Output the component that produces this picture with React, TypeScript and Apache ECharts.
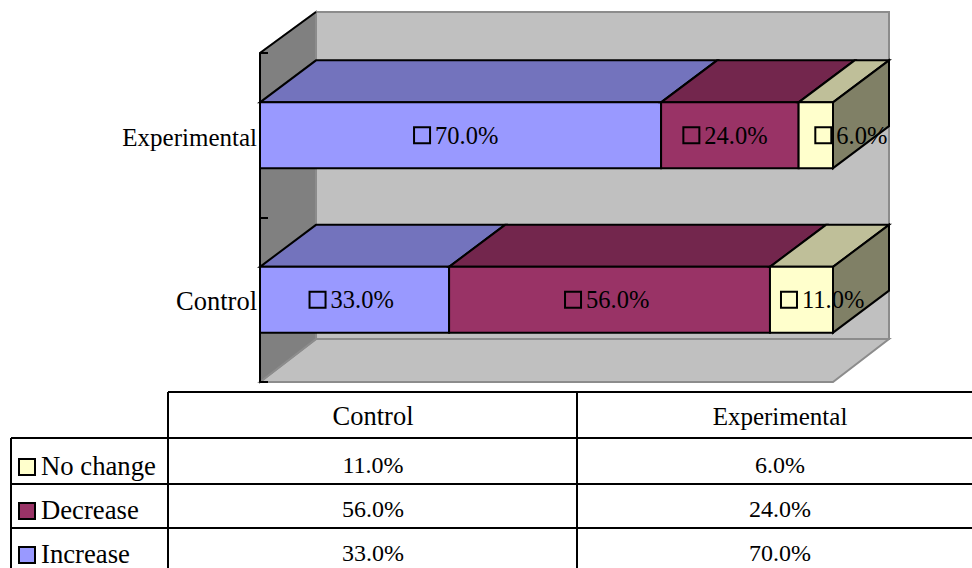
import React, { useEffect, useRef } from "react";
import * as echarts from "echarts";

const categories = ["Control", "Experimental"];
const increaseValues = [33, 70];
const decreaseValues = [56, 24];
const noChangeValues = [11, 6];
const seriesNames = ["Increase", "Decrease", "No change"];
const tableOrder = ["No change", "Decrease", "Increase"];

const FONT = "'Liberation Serif', 'Times New Roman', serif";
const WIDTH = 972;
const HEIGHT = 568;
const GRID = { left: 260, top: 53, width: 573, height: 329 };
const DEPTH_X = 56;
const DEPTH_Y = -42;
const LINE = { stroke: "#000", lineWidth: 2 };
const WALL_EDGE = { stroke: "#8c8c8c", lineWidth: 2 };

const palette: Record<string, { front: string; top: string; side: string }> = {
  Increase: { front: "#9999FF", top: "#7373BD", side: "#73739F" },
  Decrease: { front: "#993366", top: "#73264D", side: "#4D1A33" },
  "No change": { front: "#FFFFCC", top: "#BFBF99", side: "#808066" },
};

const valuesByName: Record<string, number[]> = {
  Increase: increaseValues,
  Decrease: decreaseValues,
  "No change": noChangeValues,
};

// Distance from a segment's centre to the left edge of its key-and-value label.
const labelLead: Record<string, number[]> = {
  Increase: [-46, -47.5],
  Decrease: [-45.5, -47.5],
  "No change": [-21.5, -1.5],
};

const percent = (v: number) => `${v.toFixed(1)}%`;

const poly = (points: number[][], fill: string, edge: object = LINE) => ({
  type: "polygon",
  shape: { points },
  style: { fill, ...edge },
});

// Back wall, side wall and floor of the 3D plot box.
const renderWalls = (params: any) => {
  const { x, y, width, height } = params.coordSys;
  const r = x + width;
  const b = y + height;
  const backTop = y + DEPTH_Y + 1;
  const backBottom = b + DEPTH_Y - 1;
  return {
    type: "group",
    children: [
      poly([[x + DEPTH_X, backTop], [r + DEPTH_X, backTop], [r + DEPTH_X, backBottom], [x + DEPTH_X, backBottom]], "#C0C0C0", WALL_EDGE),
      poly([[x, b], [r, b], [r + DEPTH_X, backBottom], [x + DEPTH_X, backBottom]], "#C0C0C0", WALL_EDGE),
      poly([[x, y], [x + DEPTH_X, backTop], [x + DEPTH_X, backBottom], [x, b]], "#808080", WALL_EDGE),
      { type: "line", shape: { x1: x, y1: y, x2: x + DEPTH_X, y2: backTop }, style: LINE },
    ],
  };
};

// One stacked segment as a box: top face, front face, optional end face, then its label.
const renderSegment = (name: string, isLast: boolean) => (params: any, api: any) => {
  const cat = api.value(0);
  const start = api.value(1);
  const end = api.value(2);
  const [x0, cy] = api.coord([start, cat]);
  const [x1] = api.coord([end, cat]);
  const h = api.size([0, 1])[1] * 0.4;
  const t = cy - h / 2;
  const b = cy + h / 2;
  const colors = palette[name];
  const children: any[] = [
    poly([[x0, t], [x1, t], [x1 + DEPTH_X, t + DEPTH_Y], [x0 + DEPTH_X, t + DEPTH_Y]], colors.top),
    poly([[x0, t], [x1, t], [x1, b], [x0, b]], colors.front),
  ];
  if (isLast) {
    children.push(
      poly([[x1, t], [x1 + DEPTH_X, t + DEPTH_Y], [x1 + DEPTH_X, b + DEPTH_Y], [x1, b]], colors.side)
    );
  }
  const left = (x0 + x1) / 2 + labelLead[name][cat];
  children.push(
    { type: "rect", shape: { x: left + 1, y: cy - 8, width: 16, height: 16 }, style: { fill: "transparent", ...LINE } },
    {
      type: "text",
      x: left + 22,
      y: cy,
      style: { text: percent(end - start), font: `24.5px ${FONT}`, fill: "#000", verticalAlign: "middle", align: "left" },
    }
  );
  return { type: "group", children };
};

const buildSegmentData = (name: string) => {
  const order = seriesNames.indexOf(name);
  return categories.map((_, cat) => {
    const start = seriesNames.slice(0, order).reduce((sum, n) => sum + valuesByName[n][cat], 0);
    return [cat, start, start + valuesByName[name][cat]];
  });
};

// The data table under the plot, with its legend keys.
const buildTable = () => {
  const rows = [438, 484, 528];
  const columns = [168, 577];
  const els: any[] = [];
  const hline = (x1: number, x2: number, y: number) =>
    els.push({ type: "line", shape: { x1, y1: y, x2, y2: y }, style: LINE });
  const vline = (x: number, y1: number, y2: number) =>
    els.push({ type: "line", shape: { x1: x, y1, x2: x, y2 }, style: LINE });
  const label = (text: string, x: number, y: number, align: string, size: number) =>
    els.push({
      type: "text",
      x,
      y,
      style: { text, x: 0, y: 0, font: `${size}px ${FONT}`, fill: "#000", align, verticalAlign: "middle" },
    });

  hline(168, WIDTH, 392);
  rows.forEach((y) => hline(11, WIDTH, y));
  vline(11, 438, HEIGHT);
  columns.forEach((x) => vline(x, 392, HEIGHT));

  const columnCentres = [373, 780];
  categories.forEach((c, i) => label(c, columnCentres[i], 416, "center", i === 0 ? 26.5 : 25));
  tableOrder.forEach((name, r) => {
    const mid = [467, 511, 555][r];
    els.push({
      type: "rect",
      shape: { x: 19, y: mid - 8, width: 16, height: 16 },
      style: { fill: palette[name].front, ...LINE },
    });
    label(name, 41, mid - 1, "left", 26.7);
    valuesByName[name].forEach((v, c) => label(percent(v), columnCentres[c], mid - 2, "center", 24));
  });
  return els;
};

export default function App() {
  const ref = useRef<HTMLDivElement>(null);

  useEffect(() => {
    if (!ref.current) return;
    const chart = echarts.init(ref.current, undefined, { renderer: "svg" });
    chart.setOption({
      animation: false,
      backgroundColor: "#fff",
      grid: { ...GRID, containLabel: false },
      xAxis: { type: "value", min: 0, max: 100, show: false },
      yAxis: {
        type: "category",
        data: categories,
        z: 30,
        axisLine: { show: true, lineStyle: { color: "#000", width: 2 } },
        axisTick: { show: true, inside: true, length: 8, lineStyle: { color: "#000", width: 2 } },
        axisLabel: {
          color: "#000",
          margin: 3,
          formatter: (value: string) => `{${value === categories[0] ? "low" : "high"}|${value}}`,
          rich: {
            low: { fontFamily: FONT, fontSize: 26.5, padding: [3, 0, 0, 0] },
            high: { fontFamily: FONT, fontSize: 25, padding: [5, 0, 0, 0] },
          },
        },
      },
      series: [
        {
          type: "custom",
          name: "walls",
          coordinateSystem: "cartesian2d",
          silent: true,
          clip: false,
          z: 1,
          data: [[0, 0]],
          renderItem: renderWalls,
        },
        ...seriesNames.map((name, i) => ({
          type: "custom",
          name,
          coordinateSystem: "cartesian2d",
          silent: true,
          clip: false,
          z: 2 + i,
          encode: { x: [1, 2], y: 0 },
          data: buildSegmentData(name),
          renderItem: renderSegment(name, i === seriesNames.length - 1),
        })),
      ],
      graphic: { elements: buildTable() },
    });
    return () => chart.dispose();
  }, []);

  return (
    <div
      ref={ref}
      style={{ position: "absolute", left: 0, top: 0, width: WIDTH, height: HEIGHT }}
    />
  );
}
